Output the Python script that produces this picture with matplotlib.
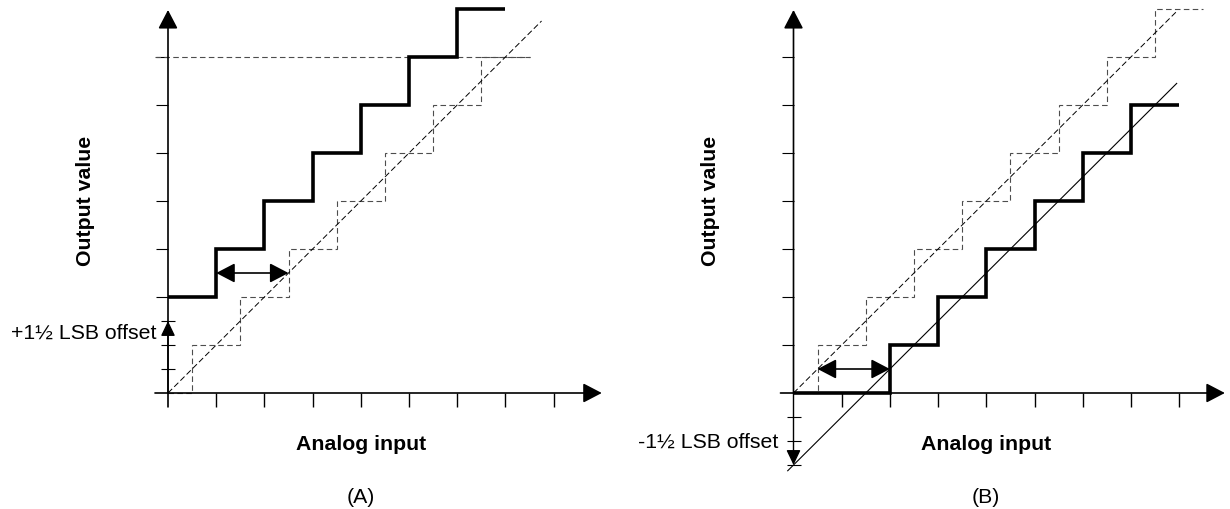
import matplotlib
matplotlib.use("Agg")
import matplotlib.pyplot as plt
import numpy as np

plt.rcParams['font.family'] = ['Liberation Sans', 'DejaVu Sans']

# ---------------- data (units of LSB) ----------------
# Panel A : +1.5 LSB offset
A_actual_edges = [0, 1, 2, 3, 4, 5, 6, 7]
A_actual_levels = [2, 3, 4, 5, 6, 7, 8]
A_ideal_edges = [0, 0.5, 1.5, 2.5, 3.5, 4.5, 5.5, 6.5, 7.5]
A_ideal_levels = [0, 1, 2, 3, 4, 5, 6, 7]
A_diag_x = [0, 7.75]
A_diag_y = [0, 7.75]
A_fullscale_x = [-0.27, 7.5]
A_fullscale_y = [7, 7]
A_major_yticks = [2, 3, 4, 5, 6, 7]
A_minor_yticks = [0.5, 1, 1.5]
A_xticks = [1, 2, 3, 4, 5, 6, 7, 8]
A_span_arrow = ([1, 2.5], 2.5)
A_offset = 1.5

# Panel B : -1.5 LSB offset
B_actual_edges = [0, 2, 3, 4, 5, 6, 7, 8]
B_actual_levels = [0, 1, 2, 3, 4, 5, 6]
B_ideal_edges = [0, 0.5, 1.5, 2.5, 3.5, 4.5, 5.5, 6.5, 7.5, 8.5]
B_ideal_levels = [0, 1, 2, 3, 4, 5, 6, 7, 8]
B_diag_x = [0, 7.95]
B_diag_y = [0, 7.95]
B_offline_x = [-0.12, 7.95]
B_offline_y = [-1.62, 6.45]
B_major_yticks = [1, 2, 3, 4, 5, 6, 7]
B_minor_yticks = [-0.5, -1, -1.5]
B_xticks = [1, 2, 3, 4, 5, 6, 7, 8]
B_span_arrow = ([0.5, 2], 0.5)
B_offset = -1.5

# ---------------- layout ----------------
W, H = 1230, 509
fig = plt.figure(figsize=(W / 100, H / 100), dpi=100)
SX, SY = 48.2, 48.0
XLIM = (-3.4, 9.0)
YLIM = (-2.4, 8.2)


def make_axes(ox, oy):
    left = (ox + SX * XLIM[0]) / W
    width = SX * (XLIM[1] - XLIM[0]) / W
    bottom = (H - (oy - SY * YLIM[0])) / H
    height = SY * (YLIM[1] - YLIM[0]) / H
    ax = fig.add_axes([left, bottom, width, height])
    ax.set_xlim(*XLIM)
    ax.set_ylim(*YLIM)
    ax.patch.set_alpha(0)
    for s in ['top', 'right']:
        ax.spines[s].set_visible(False)
    for s in ['left', 'bottom']:
        ax.spines[s].set_position(('data', 0))
        ax.spines[s].set_color('none')
    return ax


def arrow(ax, p0, p1, lw=1.2, hl=1.15, hw=0.6, scale=10, both=False):
    style = ('<|-|>' if both else '-|>') + f',head_length={hl},head_width={hw}'
    ax.annotate('', xy=p1, xytext=p0, xycoords='data', textcoords='data',
                annotation_clip=False,
                arrowprops=dict(arrowstyle=style, color='black', lw=lw,
                                shrinkA=0, shrinkB=0, mutation_scale=scale),
                zorder=6)


def setup_ticks(ax, xt, yt_major, yt_minor):
    ax.set_xticks(xt)
    ax.set_xticklabels([])
    ax.set_yticks(yt_major)
    ax.set_yticklabels([])
    ax.set_yticks(yt_minor, minor=True)
    ax.set_xticks([], minor=True)
    ax.tick_params(axis='x', which='major', direction='out', length=10, width=1.0, color='black')
    ax.tick_params(axis='y', which='major', direction='out', length=8.6, width=0.8, color='black')
    ax.tick_params(axis='y', which='minor', direction='inout', length=9.4, width=0.8, color='black')


DASH_GRAY = '#4d4d4d'
FS = 15.3

# ---------- Panel A ----------
axA = make_axes(168, 393)
setup_ticks(axA, A_xticks, A_major_yticks, A_minor_yticks)
axA.plot(A_fullscale_x, A_fullscale_y, color=DASH_GRAY, lw=0.8, ls=(0, (5, 3)), zorder=2)
axA.stairs(A_ideal_levels, A_ideal_edges, baseline=None, color=DASH_GRAY, lw=0.8,
           ls=(0, (5, 3)), zorder=2)
axA.plot(A_diag_x, A_diag_y, color='black', lw=0.7, ls=(0, (6, 3)), zorder=3)
axA.stairs(A_actual_levels, A_actual_edges, baseline=None, color='black', lw=2.6, zorder=4)
# axes with arrowheads
arrow(axA, (-0.27, 0), (9.0, 0))
arrow(axA, (0, -0.29), (0, 7.98))
arrow(axA, (A_span_arrow[0][0], A_span_arrow[1]), (A_span_arrow[0][1], A_span_arrow[1]), both=True)
arrow(axA, (0, 0), (0, A_offset), lw=1.0, hl=1.3, hw=0.62, scale=7)

axA.text(-0.23, 1.25, '+1½ LSB offset', ha='right', va='center', fontsize=FS)
axA.text(-1.72, 4.0, 'Output value', rotation=90, ha='center', va='center',
         fontsize=FS, fontweight='bold')
axA.text(4.0, -1.08, 'Analog input', ha='center', va='center', fontsize=FS, fontweight='bold')
axA.text(4.0, -2.17, '(A)', ha='center', va='center', fontsize=FS)

# ---------- Panel B ----------
axB = make_axes(793.5, 393)
setup_ticks(axB, B_xticks, B_major_yticks, B_minor_yticks)
axB.stairs(B_ideal_levels, B_ideal_edges, baseline=None, color=DASH_GRAY, lw=0.8,
           ls=(0, (5, 3)), zorder=2)
axB.plot(B_diag_x, B_diag_y, color='black', lw=0.7, ls=(0, (6, 3)), zorder=3)
axB.plot(B_offline_x, B_offline_y, color='black', lw=0.8, zorder=3)
axB.stairs(B_actual_levels, B_actual_edges, baseline=None, color='black', lw=2.6, zorder=4)
arrow(axB, (-0.27, 0), (8.95, 0))
arrow(axB, (0, 0), (0, 7.98))
arrow(axB, (B_span_arrow[0][0], B_span_arrow[1]), (B_span_arrow[0][1], B_span_arrow[1]), both=True)
arrow(axB, (0, 0), (0, B_offset), lw=1.0, hl=1.3, hw=0.62, scale=7)

axB.text(-0.32, -1.02, '-1½ LSB offset', ha='right', va='center', fontsize=FS)
axB.text(-1.73, 4.0, 'Output value', rotation=90, ha='center', va='center',
         fontsize=FS, fontweight='bold')
axB.text(4.0, -1.08, 'Analog input', ha='center', va='center', fontsize=FS, fontweight='bold')
axB.text(4.0, -2.17, '(B)', ha='center', va='center', fontsize=FS)

fig.savefig('out.png', dpi=100)
